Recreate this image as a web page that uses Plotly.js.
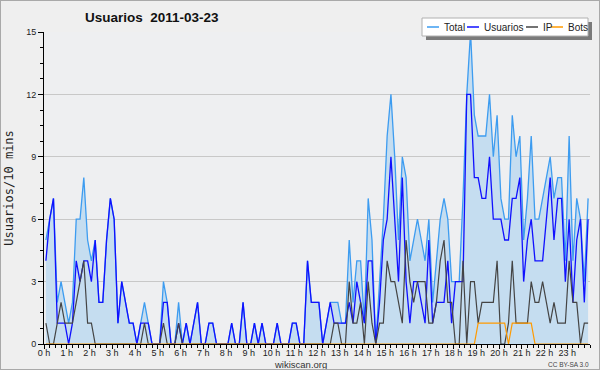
<!DOCTYPE html>
<html><head><meta charset="utf-8">
<script src="https://cdn.plot.ly/plotly-3.0.1.min.js"></script>
<style>
html,body{margin:0;padding:0;background:#efefef}
#wrap{position:relative;width:600px;height:370px}
#chart{width:600px;height:370px}
#frame{position:absolute;left:0;top:0;width:598px;height:368px;border:1px solid #a9a9a9;pointer-events:none}
</style>
</head><body>
<div id="wrap"><div id="chart"></div><div id="frame"></div></div>
<script>
// 10-minute slots, 144 per day
const total = [5,6,7,2,3,2,1,2,6,6,8,5,4,5,2,2,5,7,6,1,3,2,1,1,0,1,2,1,0,0,
0,3,2,0,0,2,0,1,0,1,2,0,0,1,1,0,0,0,0,1,0,0,2,0,0,1,0,1,0,0,
0,1,0,0,0,1,1,0,0,4,2,2,2,0,1,2,2,2,1,1,5,2,4,4,1,7,5,0,3,6,
10,12,9,5,9,8,4,5,6,5,4,6,2,4,6,7,6,3,3,3,7,12,15,11,10,10,10,12,9,11,
7,6,6,11,9,10,5,7,10,6,6,7,8,9,7,8,8,4,10,4,7,6,3,7];
const usuarios = [4,6,7,1,1,1,0,1,4,3,4,4,3,5,2,2,5,7,6,1,3,2,1,1,0,1,1,1,0,0,
0,2,2,0,0,1,0,1,0,1,2,0,0,1,1,0,0,0,0,1,0,0,2,0,0,1,0,1,0,0,
0,1,0,0,0,1,1,0,0,4,2,2,2,0,1,2,1,1,1,1,2,1,3,2,1,4,4,0,2,5,
6,9,6,3,8,3,1,3,3,2,1,5,1,2,2,2,4,1,3,3,3,12,12,8,8,7,7,9,6,6,
6,5,5,7,7,8,3,5,6,4,4,4,6,8,5,7,7,3,6,2,5,6,2,6];
const ip = [1,0,0,1,2,1,1,1,2,3,4,1,1,0,0,0,0,0,0,0,0,0,0,0,0,0,1,0,0,0,
0,1,0,0,0,1,0,0,0,0,0,0,0,0,0,0,0,0,0,0,0,0,0,0,0,0,0,0,0,0,
0,0,0,0,0,0,0,0,0,0,0,0,0,0,0,0,1,1,0,0,3,1,1,2,0,3,1,0,1,1,
4,3,3,2,1,5,3,2,3,3,3,1,1,2,4,5,2,2,0,0,4,0,3,3,1,2,2,2,2,4,
0,0,1,4,1,1,1,1,3,2,2,3,2,1,2,1,1,1,4,2,2,0,1,1];
const bots = [0,0,0,0,0,0,0,0,0,0,0,0,0,0,0,0,0,0,0,0,0,0,0,0,0,0,0,0,0,0,
0,0,0,0,0,0,0,0,0,0,0,0,0,0,0,0,0,0,0,0,0,0,0,0,0,0,0,0,0,0,
0,0,0,0,0,0,0,0,0,0,0,0,0,0,0,0,0,0,0,0,0,0,0,0,0,0,0,0,0,0,
0,0,0,0,0,0,0,0,0,0,0,0,0,0,0,0,0,0,0,0,0,0,0,0,1,1,1,1,1,1,
1,1,0,1,1,1,1,1,1,0,0,0,0,0,0,0,0,0,0,0,0,0,0,0];
const hourTicks = [0,1,2,3,4,5,6,7,8,9,10,11,12,13,14,15,16,17,18,19,20,21,22,23];
const hourLabels = ['0 h','1 h','2 h','3 h','4 h','5 h','6 h','7 h','8 h','9 h','10 h','11 h',
'12 h','13 h','14 h','15 h','16 h','17 h','18 h','19 h','20 h','21 h','22 h','23 h'];
const yTicks = [0,3,6,9,12,15];
const seriesNames = ['Total','Usuarios','IP','Bots'];
const seriesColors = ['#3d9cf0','#1010ff','#444444','#ff9a00'];

// slot midpoints in hours
const hours = total.map((_, i) => (i * 10 + 5) / 60);

const L = 44, R = 590, T = 32, B = 344;
const px = x => (x - L) / (R - L);
const py = y => (B - y) / (B - T);

const font = '"Liberation Sans",Arial,sans-serif';

const traces = [
  {x: hours, y: total, name: seriesNames[0], type: 'scatter', mode: 'lines',
   line: {color: seriesColors[0], width: 1.3}, fill: 'tozeroy', fillcolor: 'rgb(197,221,240)'},
  {x: hours, y: usuarios, name: seriesNames[1], type: 'scatter', mode: 'lines',
   line: {color: seriesColors[1], width: 1.3}},
  {x: hours, y: ip, name: seriesNames[2], type: 'scatter', mode: 'lines',
   line: {color: seriesColors[2], width: 1.2}},
  {x: hours, y: bots, name: seriesNames[3], type: 'scatter', mode: 'lines',
   line: {color: seriesColors[3], width: 1.2}}
];

// manual legend
const legX = [427, 467, 526, 551];
const legTextX = [442, 482, 541, 566];
const shapes = [
  {type:'rect', xref:'paper', yref:'paper', x0:px(426), x1:px(592), y0:py(40), y1:py(22),
   fillcolor:'#7a7a7a', line:{width:0}, layer:'above'},
  {type:'rect', xref:'paper', yref:'paper', x0:px(422), x1:px(588), y0:py(36), y1:py(18),
   fillcolor:'#ffffff', line:{color:'#b0b0b0', width:1}, layer:'above'}
];
const annotations = [
  {text:'wikiscan.org', xref:'paper', yref:'paper', x:px(300), y:py(364), showarrow:false,
   font:{family:font, size:9.5, color:'#333'}, xanchor:'center', yanchor:'middle'},
  {text:'CC BY-SA 3.0', xref:'paper', yref:'paper', x:px(591), y:py(364.5), showarrow:false,
   font:{family:font, size:6.5, color:'#444'}, xanchor:'right', yanchor:'middle'}
];
seriesNames.forEach((n, k) => {
  shapes.push({type:'line', xref:'paper', yref:'paper', x0:px(legX[k]), x1:px(legX[k]+12),
    y0:py(27), y1:py(27), line:{color:seriesColors[k], width:1.5}, layer:'above'});
  annotations.push({text:n, xref:'paper', yref:'paper', x:px(legTextX[k]), y:py(27), showarrow:false,
    font:{family:font, size:10, color:'#222'}, xanchor:'left', yanchor:'middle'});
});

const layout = {
  width: 600, height: 370,
  margin: {l: L, r: 600 - R, t: T, b: 370 - B},
  paper_bgcolor: '#efefef', plot_bgcolor: '#eeeff1',
  showlegend: false,
  title: {text: '<b>Usuarios&nbsp;&nbsp;2011-03-23</b>', xref:'container', yref:'container',
    x: 85/600, xanchor:'left', y: 1 - 17/370, yanchor:'middle',
    font: {family: font, size: 13.5, color: '#111'}},
  xaxis: {range: [0, 24], tickvals: hourTicks, ticktext: hourLabels, ticks: 'outside',
    ticklen: 4, tickcolor: '#000', showline: true, linecolor: '#000', linewidth: 1,
    ticklabelstandoff: -4,
    showgrid: false, zeroline: false, tickfont: {family: font, size: 9, color: '#222'},
    minor: {dtick: 0.25, ticks: 'outside', ticklen: 3, tickcolor: '#000', showgrid: false},
    fixedrange: true},
  yaxis: {range: [0, 15], tickvals: yTicks, ticks: 'outside', ticklen: 5, tickcolor: '#000',
    showline: true, linecolor: '#000', linewidth: 1, showgrid: true, gridcolor: '#c8c8c8',
    gridwidth: 1, zeroline: false, tickfont: {family: font, size: 9, color: '#222'},
    minor: {dtick: 0.75, ticks: 'outside', ticklen: 3, tickcolor: '#000', showgrid: false},
    title: {text: 'Usuarios/10 mins', font: {family: '"DejaVu Sans Mono",monospace', size: 12, color: '#222'}, standoff: 9},
    fixedrange: true},
  shapes: shapes,
  annotations: annotations
};

Plotly.newPlot('chart', traces, layout, {displayModeBar: false, staticPlot: true});
</script>
</body></html>
